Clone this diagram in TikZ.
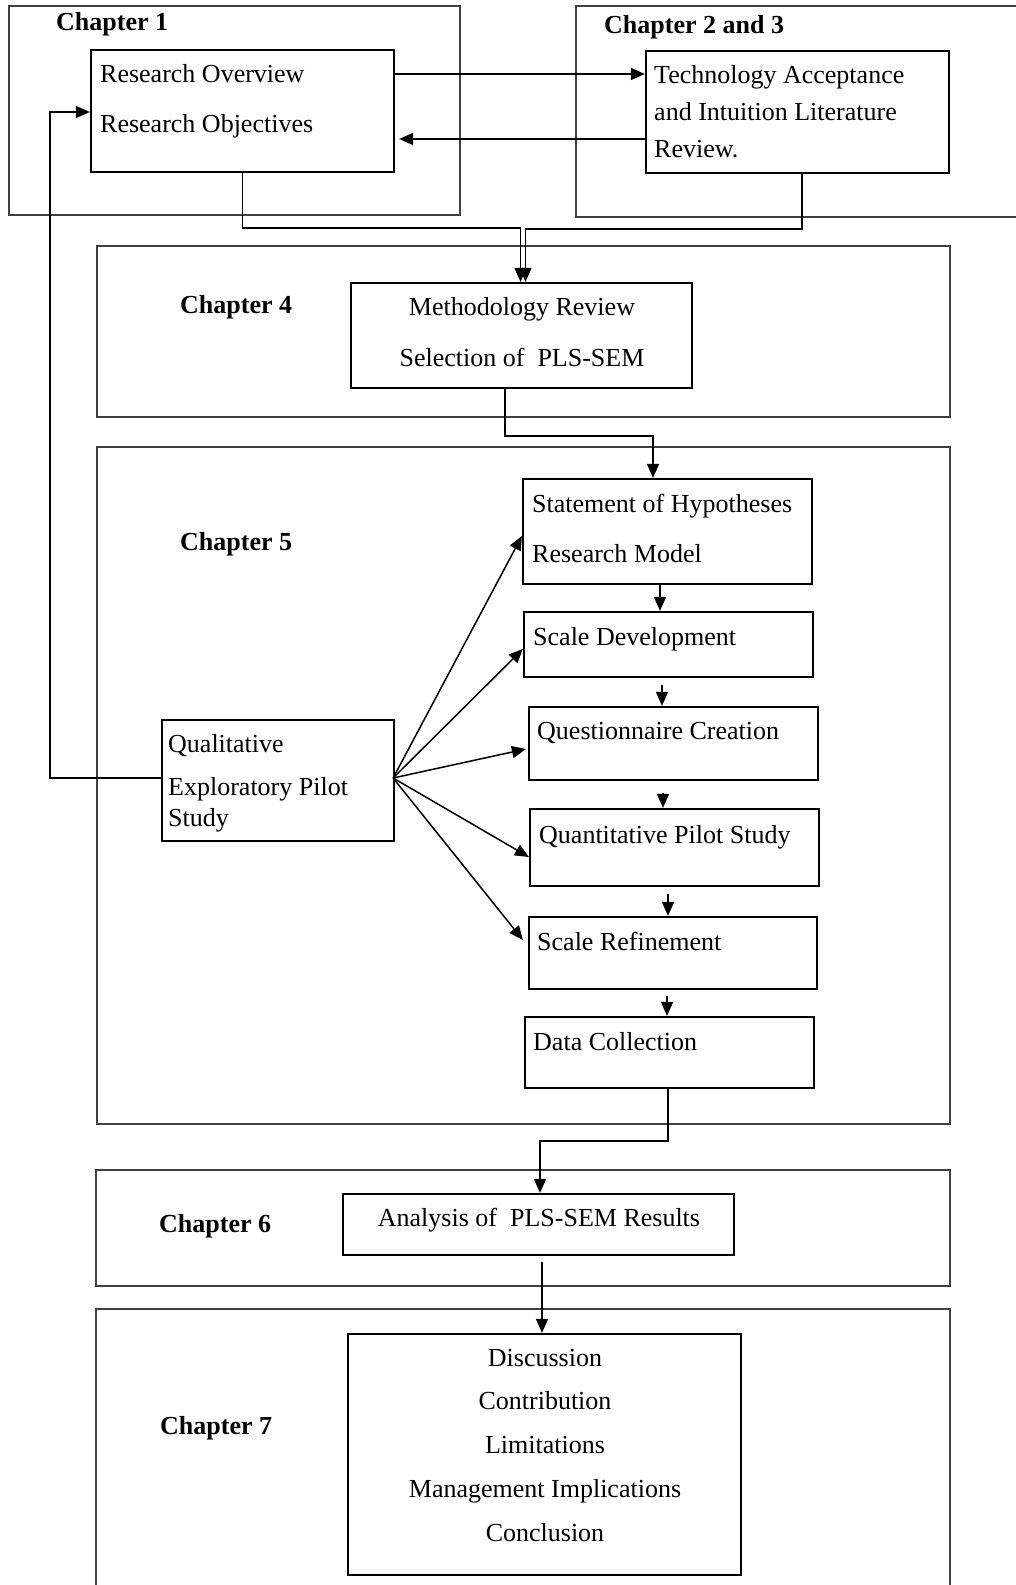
\documentclass[tikz,border=0pt]{standalone}
\usepackage{fontspec}
\setmainfont{Liberation Serif}
\usetikzlibrary{arrows.meta,calc}
\begin{document}
\begin{tikzpicture}[x=1pt,y=-1pt,
  every node/.style={font=\fontsize{26}{31}\selectfont},
  outer/.style={draw=black!75, line width=1.5pt, inner sep=0},
  ibox/.style={draw=black, line width=2.2pt, inner sep=0},
  txt/.style={inner sep=0, anchor=base west},
  ctxt/.style={inner sep=0, anchor=base},
  head/.style={inner sep=0, anchor=base west, font=\fontsize{26}{31}\selectfont\bfseries},
  arr/.style={draw=black, line width=1.5pt, -{Triangle[length=14pt,width=12pt]}},
  ln/.style={draw=black, line width=1.4pt}]
\useasboundingbox (0,0) rectangle (1016,1585);
\fill[white] (0,0) rectangle (1016,1585);

% outer chapter frames
\node[outer, minimum width=451, minimum height=209] (ch1) at (234.5,110.5) {};
\node[outer, minimum width=454, minimum height=211] (ch23) at (803,111.5) {};
\node[outer, minimum width=853, minimum height=171] (ch4) at (523.5,331.5) {};
\node[outer, minimum width=853, minimum height=677] (ch5) at (523.5,785.5) {};
\node[outer, minimum width=854, minimum height=116] (ch6) at (523,1228) {};
\node[outer, minimum width=854, minimum height=291] (ch7) at (523,1454.5) {};

% headings
\node[head] (h1) at (56,30) {Chapter 1};
\node[head] (h23) at (604,33) {Chapter 2 and 3};
\node[head] (h4) at (180,313) {Chapter 4};
\node[head] (h5) at (180,550) {Chapter 5};
\node[head] (h6) at (159,1232) {Chapter 6};
\node[head] (h7) at (160,1434) {Chapter 7};

% inner boxes
\node[ibox, minimum width=303, minimum height=122] (box1) at (242.5,111) {};
\node[ibox, minimum width=303, minimum height=122] (box2) at (797.5,112) {};
\node[ibox, minimum width=341, minimum height=105] (meth) at (521.5,335.5) {};
\node[ibox, minimum width=289, minimum height=105] (stmt) at (667.5,531.5) {};
\node[ibox, minimum width=289, minimum height=65] (scaled) at (668.5,644.5) {};
\node[ibox, minimum width=289, minimum height=73] (quest) at (673.5,743.5) {};
\node[ibox, minimum width=289, minimum height=77] (quant) at (674.5,847.5) {};
\node[ibox, minimum width=288, minimum height=72] (refine) at (673,953) {};
\node[ibox, minimum width=289, minimum height=71] (data) at (669.5,1052.5) {};
\node[ibox, minimum width=232, minimum height=121] (qual) at (278,780.5) {};
\node[ibox, minimum width=391, minimum height=61] (anal) at (538.5,1224.5) {};
\node[ibox, minimum width=393, minimum height=241] (disc) at (544.5,1454.5) {};

% texts
\node[txt] (t1a) at (100,82) {Research Overview};
\node[txt] (t1b) at (100,132) {Research Objectives};
\node[txt] (t2a) at (654,83) {Technology Acceptance};
\node[txt] (t2b) at (654,120) {and Intuition Literature};
\node[txt] (t2c) at (654,157) {Review.};
\node[ctxt] (t4a) at (522,315) {Methodology Review};
\node[ctxt] (t4b) at (522,366) {Selection of\ \ PLS-SEM};
\node[txt] (t5a) at (532,512) {Statement of Hypotheses};
\node[txt] (t5b) at (532,562) {Research Model};
\node[txt] (t5c) at (533,645) {Scale Development};
\node[txt] (t5d) at (537,739) {Questionnaire Creation};
\node[txt] (t5e) at (539,843) {Quantitative Pilot Study};
\node[txt] (t5f) at (537,950) {Scale Refinement};
\node[txt] (t5g) at (533,1050) {Data Collection};
\node[txt] (tq1) at (168,752) {Qualitative};
\node[txt] (tq2) at (168,795) {Exploratory Pilot};
\node[txt] (tq3) at (168,826) {Study};
\node[ctxt] (t6) at (539,1226) {Analysis of\ \ PLS-SEM Results};
\node[ctxt] (t7a) at (545,1366) {Discussion};
\node[ctxt] (t7b) at (545,1409) {Contribution};
\node[ctxt] (t7c) at (545,1453) {Limitations};
\node[ctxt] (t7d) at (545,1497) {Management Implications};
\node[ctxt] (t7e) at (545,1541) {Conclusion};

% connectors
\draw[arr] (box1.east |- 0,74) -- (box2.west |- 0,74);
\draw[arr] (box2.west |- 0,139) -- ([xshift=4pt]box1.east |- 0,139);
\draw[arr] (box1.south) -- ++(0,55) -| ([xshift=-1pt]meth.north);
\draw[arr] ([xshift=4.5pt]box2.south) -- ++(0,55) -| ([xshift=4pt]meth.north);
\draw[arr] ([xshift=-16.5pt]meth.south) -- ++(0,47) -| ([xshift=-14.5pt]stmt.north);
\draw[arr] (stmt.south -| 660,0) -- (scaled.north -| 660,0);
\draw[arr, shorten <=7pt] (scaled.south -| 662,0) -- (quest.north -| 662,0);
\draw[arr, shorten <=12pt] (quest.south -| 663,0) -- (quant.north -| 663,0);
\draw[arr, shorten <=7pt] (quant.south -| 668,0) -- (refine.north -| 668,0);
\draw[arr, shorten <=6pt] (refine.south -| 667,0) -- (data.north -| 667,0);
\draw[arr] ([xshift=-2pt,yshift=2.5pt]qual.east) -- (stmt.west |- 0,536);
\draw[arr] ([xshift=-2pt,yshift=2.5pt]qual.east) -- (scaled.west |- 0,649);
\draw[arr] ([xshift=-2pt,yshift=2.5pt]qual.east) -- ([xshift=-2pt]quest.west |- 0,749);
\draw[arr] ([xshift=-2pt,yshift=2.5pt]qual.east) -- (quant.west |- 0,857);
\draw[arr] ([xshift=-2pt,yshift=2.5pt]qual.east) -- ([xshift=-5pt]refine.west |- 0,940);
\draw[arr] ([yshift=2.5pt]qual.west) -- ++(-111,0) |- (box1.west |- 0,112);
\draw[arr] (data.south -| 668,0) -- ++(0,52) -| ([xshift=1.5pt]anal.north);
\draw[arr, shorten <=6pt] (anal.south -| 542,0) -- (disc.north -| 542,0);
\end{tikzpicture}
\end{document}
